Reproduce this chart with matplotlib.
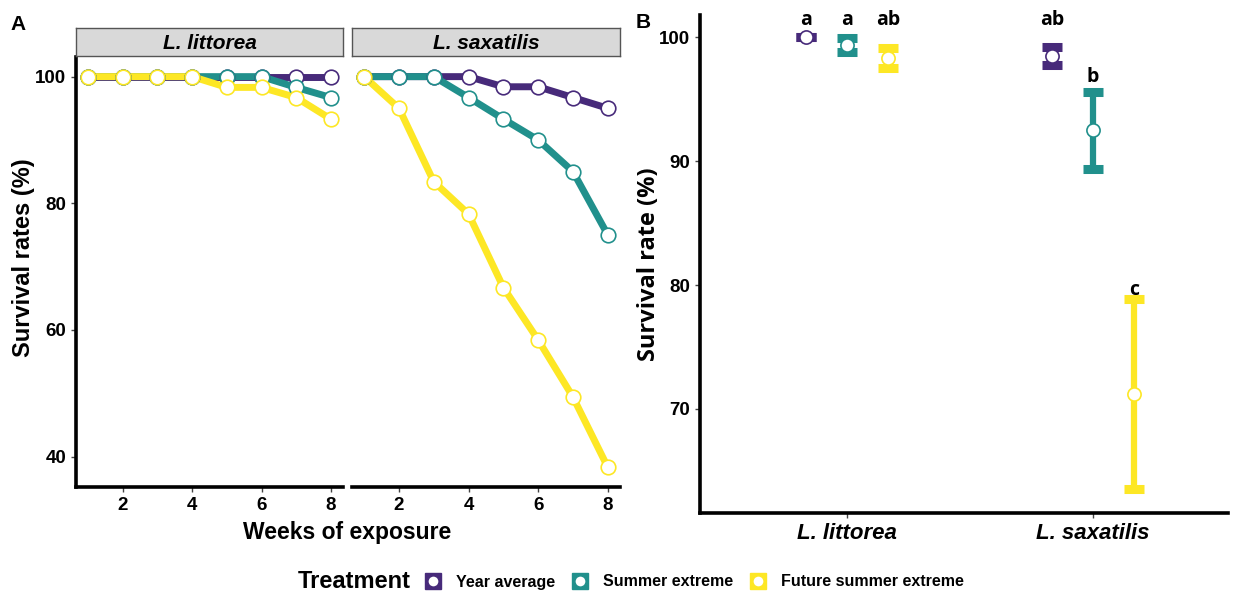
import matplotlib.pyplot as plt
from matplotlib.lines import Line2D
import numpy as np

# Data ---------------------------------------------
weeks = [1, 2, 3, 4, 5, 6, 7, 8]
species = ["L. littorea", "L. saxatilis"]
treatments = ["Year average", "Summer extreme", "Future summer extreme"]
colors = ["#472A7A", "#21908C", "#FDE725"]

# weekly survival (%), panel A
littorea_year = [100, 100, 100, 100, 100, 100, 100, 100]
littorea_summer = [100, 100, 100, 100, 100, 100, 98.3, 96.7]
littorea_future = [100, 100, 100, 100, 98.3, 98.3, 96.7, 93.3]
saxatilis_year = [100, 100, 100, 100, 98.4, 98.4, 96.7, 95.0]
saxatilis_summer = [100, 100, 100, 96.7, 93.3, 90.0, 85.0, 75.0]
saxatilis_future = [100, 95.0, 83.4, 78.3, 66.7, 58.4, 49.4, 38.3]

# final survival mean and error, panel B (order: treatments within species)
final_mean_littorea = [100.0, 99.4, 98.3]
final_err_littorea = [0.0, 0.55, 0.8]
final_mean_saxatilis = [98.5, 92.5, 71.2]
final_err_saxatilis = [0.75, 3.1, 7.7]
letters_littorea = ["a", "a", "ab"]
letters_saxatilis = ["ab", "b", "c"]
letter_y_littorea = [101.4, 101.4, 101.4]
letter_y_saxatilis = [101.4, 96.8, 79.6]

# Fonts --------------------------------------------
plt.rcParams["font.family"] = ["Liberation Sans", "DejaVu Sans"]
soft = ["Open Sans", "DejaVu Sans"]

fig = plt.figure(figsize=(12.46, 5.95), dpi=100)
W, H = 1246, 595


def px_axes(x0, y0, x1, y1):
    """Axes from pixel box (top-left origin)."""
    return fig.add_axes([x0 / W, (H - y1) / H, (x1 - x0) / W, (y1 - y0) / H])


def style_axes(ax, left=True):
    for side in ["top", "right"]:
        ax.spines[side].set_visible(False)
    ax.spines["bottom"].set_linewidth(2.6)
    ax.spines["left"].set_linewidth(2.6)
    ax.spines["left"].set_visible(left)
    ax.tick_params(length=3.5, width=1, color="#444444", labelsize=13.5)
    for lab in ax.get_xticklabels() + ax.get_yticklabels():
        lab.set_fontweight("bold")


# Panel A ------------------------------------------
panel_a = {
    "L. littorea": [littorea_year, littorea_summer, littorea_future],
    "L. saxatilis": [saxatilis_year, saxatilis_summer, saxatilis_future],
}
facet_boxes = [(76, 57, 343, 487), (352, 57, 620, 487)]

for i, (sp, box) in enumerate(zip(species, facet_boxes)):
    ax = px_axes(*box)
    for vals, col in zip(panel_a[sp], colors):
        ax.plot(weeks, vals, color=col, lw=5, solid_capstyle="round", zorder=2)
        ax.plot(weeks, vals, "o", ms=10.5, mfc="white", mec=col, mew=1.2, zorder=3)
    ax.set_xlim(0.65, 8.35)
    ax.set_ylim(35.2, 103.1)
    ax.set_xticks([2, 4, 6, 8])
    ax.set_yticks([40, 60, 80, 100])
    if i > 0:
        ax.tick_params(axis="y", left=False, labelleft=False)
    style_axes(ax, left=(i == 0))

    # facet strip
    sx = px_axes(box[0], 28, box[2], 56)
    sx.set_facecolor("#D9D9D9")
    for s in sx.spines.values():
        s.set_color("#555555")
        s.set_linewidth(1)
    sx.set_xticks([])
    sx.set_yticks([])
    sx.text(0.5, 0.45, sp, ha="center", va="center", fontsize=15,
            fontweight="bold", fontstyle="italic", transform=sx.transAxes)

fig.text(24 / W, 1 - 258 / H, "Survival rates (%)", rotation=90, ha="center",
         va="center", fontsize=17, fontweight="bold")
fig.text(347 / W, 1 - 532 / H, "Weeks of exposure", ha="center", va="center",
         fontsize=16.5, fontweight="bold")
fig.text(18 / W, 1 - 25 / H, "A", ha="center", va="center", fontsize=15, fontweight="bold")

# Panel B ------------------------------------------
axb = px_axes(700, 15, 1228, 513)
offsets = (np.arange(len(treatments)) - 1) * (0.5 / 3)
means = [final_mean_littorea, final_mean_saxatilis]
errs = [final_err_littorea, final_err_saxatilis]
letters = [letters_littorea, letters_saxatilis]
letter_y = [letter_y_littorea, letter_y_saxatilis]

for si in range(len(species)):
    for ti, col in enumerate(colors):
        x = si + 1 + offsets[ti]
        axb.errorbar([x], [means[si][ti]], yerr=[errs[si][ti]], fmt="none",
                     ecolor=col, elinewidth=4.5, capsize=7.5, capthick=6.5, zorder=2)
        axb.plot([x], [means[si][ti]], "o", ms=9.5, mfc="white", mec=col, mew=1.2, zorder=3)
        axb.text(x, letter_y[si][ti], letters[si][ti], ha="center", va="center",
                 fontsize=14, fontweight="bold", family=soft)

axb.set_xlim(0.4, 2.55)
axb.set_ylim(61.6, 101.8)
axb.set_xticks([1, 2])
axb.set_xticklabels(species)
axb.set_yticks([70, 80, 90, 100])
style_axes(axb)
for lab in axb.get_xticklabels():
    lab.set_fontstyle("italic")
    lab.set_fontsize(16)
axb.set_ylabel("Survival rate (%)", fontsize=17, fontweight="bold",
               family=soft, labelpad=-1)
fig.text(643 / W, 1 - 22 / H, "B", ha="center", va="center", fontsize=15, fontweight="bold")

# Legend -------------------------------------------
handles = []
for col in colors:
    handles.append((Line2D([], [], marker="s", ls="none", ms=11, color=col),
                    Line2D([], [], marker="o", ls="none", ms=8, mfc="white", mec=col, mew=1)))
fig.text(298 / W, 1 - 582 / H, "Treatment", ha="left", va="center",
         fontsize=17, fontweight="bold")
fig.legend(handles, treatments, loc="center left", bbox_to_anchor=(410 / W, 1 - 582 / H),
           ncol=3, frameon=False, handlelength=1.1, handletextpad=0.9, columnspacing=1.0,
           prop={"size": 11.5, "weight": "bold"})

fig.savefig("out.png", dpi=100)
